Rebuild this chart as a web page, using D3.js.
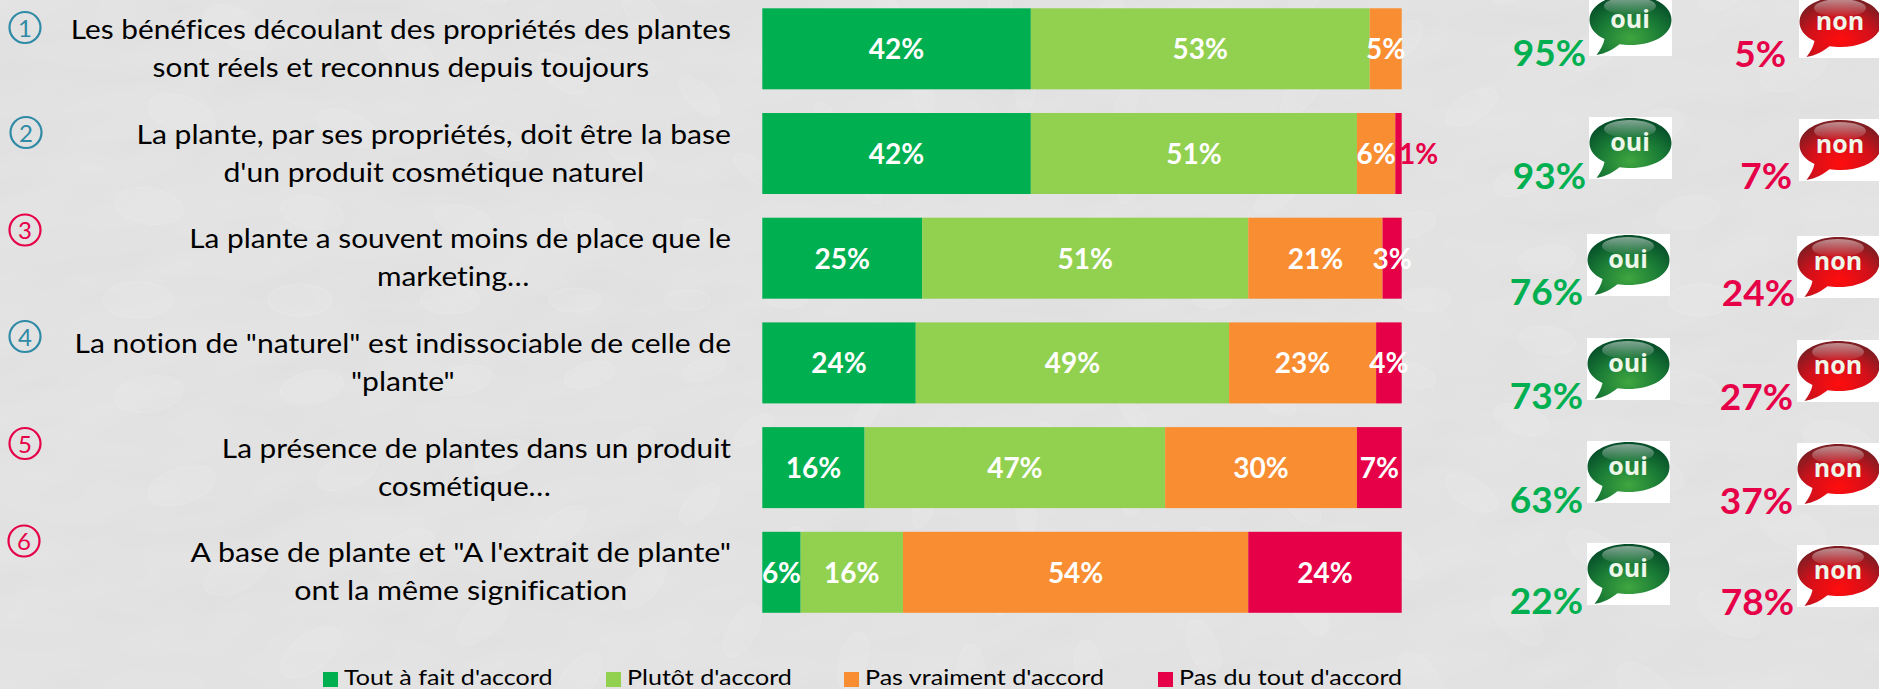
<!DOCTYPE html>
<html lang="fr">
<head>
<meta charset="utf-8">
<title>Plantes et cosmétique naturelle</title>
<script src="https://cdn.jsdelivr.net/npm/d3@7/dist/d3.min.js"></script>
<style>
html,body{margin:0;padding:0;background:#e3e3e3;overflow:hidden}
svg{display:block}
text{font-family:Lato,Carlito,"Noto Sans",sans-serif;font-variant-ligatures:none}
</style>
</head>
<body>
<div id="chart"></div>
<script>
// ---- data ----
const statementLines = [
  ["Les bénéfices découlant des propriétés des plantes", "sont réels et reconnus depuis toujours"],
  ["La plante, par ses propriétés, doit être la base", "d'un produit cosmétique naturel"],
  ["La plante a souvent moins de place que le", "marketing…"],
  ["La notion de \"naturel\" est indissociable de celle de", "\"plante\""],
  ["La présence de plantes dans un produit", "cosmétique…"],
  ["A base de plante et \"A l'extrait de plante\"", "ont la même signification"]
];
const seriesNames = ["Tout à fait d'accord", "Plutôt d'accord", "Pas vraiment d'accord", "Pas du tout d'accord"];
const toutAFait  = [42, 42, 25, 24, 16, 6];
const plutot     = [53, 51, 51, 49, 47, 16];
const pasVraiment= [5, 6, 21, 23, 30, 54];
const pasDuTout  = [0, 1, 3, 4, 7, 24];
const ouiTotals  = [95, 93, 76, 73, 63, 22];
const nonTotals  = [5, 7, 24, 27, 37, 78];
const circledNumbers = ["1", "2", "3", "4", "5", "6"];
const circledIsRed   = [false, false, true, false, true, true];

// ---- layout & styles ----
const W = 1879, H = 689;
const seriesColors = ["#00b050", "#92d050", "#f98d31", "#e60048"];
const GREEN = "#00b050", RED = "#e60048", TEAL = "#2f8aa6";
const textRight = 731;
const secondLineNudge = [0, 0, -7, 0, -12, 0];
const lineStretch = [1.083, 1.095, 1.083, 1.092, 1.083, 1.105];
const circleX = [25, 26, 25, 25, 25, 24];
const circleY = [27.5, 132.5, 230, 336.5, 443.5, 541];
const bubbleOuiY = [-6, 117, 234, 338, 441, 543];
const bubbleOuiX = [1589, 1589, 1587, 1587, 1587, 1587];
const pctOuiRight = [1586, 1586, 1583, 1583, 1583, 1583];
const pctOuiBase = [66, 189, 305, 409, 513, 614];
const pctNonRight = [1786, 1792, 1795, 1793, 1793, 1794];
const pctNonBase = [67, 189, 306, 410, 514, 615];
const legendSwatchX = [323, 606, 844, 1158];

const svg = d3.select("#chart").append("svg").attr("width", W).attr("height", H).attr("viewBox", [0, 0, W, H]);
const defs = svg.append("defs");

function stretch(sel, k) {
  const w = sel.node().getComputedTextLength();
  sel.attr("textLength", w * k).attr("lengthAdjust", "spacingAndGlyphs");
  return sel;
}

// ---- embossed stone background ----
const f = defs.append("filter").attr("id", "stone").attr("x", 0).attr("y", 0).attr("width", "100%").attr("height", "100%").attr("color-interpolation-filters", "sRGB");
f.append("feTurbulence").attr("type", "fractalNoise").attr("baseFrequency", "0.005 0.009").attr("numOctaves", 3).attr("seed", 11).attr("result", "n");
const lit = f.append("feDiffuseLighting").attr("in", "n").attr("surfaceScale", 5).attr("diffuseConstant", 1).attr("lighting-color", "#ffffff").attr("result", "l");
lit.append("feDistantLight").attr("azimuth", 225).attr("elevation", 62);
const ct = f.append("feComponentTransfer").attr("in", "l");
["feFuncR", "feFuncG", "feFuncB"].forEach(k => ct.append(k).attr("type", "linear").attr("slope", 0.16).attr("intercept", 0.748));
svg.append("rect").attr("width", W).attr("height", H).attr("fill", "#e3e3e3");
svg.append("rect").attr("width", W).attr("height", H).attr("filter", "url(#stone)");

// faint radial petals of the background image
const petals = svg.append("g").attr("fill", "#ffffff").attr("fill-opacity", 0.07).attr("stroke", "#ffffff").attr("stroke-opacity", 0.14);
const petalCentre = [1000, 300];
[170, 250, 340, 440, 560, 690].forEach((r, ri) => {
  const n = 14 + ri * 5;
  d3.range(n).forEach(i => {
    const a = (i + (ri % 2) * 0.5) / n * 2 * Math.PI;
    const px = petalCentre[0] + r * Math.cos(a) * 1.25, py = petalCentre[1] + r * Math.sin(a) * 0.85;
    petals.append("ellipse").attr("cx", px).attr("cy", py).attr("rx", 8 + ri * 2).attr("ry", 20 + ri * 3)
      .attr("transform", `rotate(${a * 180 / Math.PI - 90} ${px} ${py})`);
  });
});

// ---- scales ----
const rows = d3.range(statementLines.length);
const x = d3.scaleLinear().domain([0, 100]).range([762.3, 1401.7]);
const y = d3.scaleBand().domain(rows).range([8.3, 612.8]).paddingInner(0.2264).paddingOuter(0);
const table = rows.map(i => ({ row: i, a: toutAFait[i], b: plutot[i], c: pasVraiment[i], d: pasDuTout[i] }));
const keys = ["a", "b", "c", "d"];
const stacked = d3.stack().keys(keys)(table);

// ---- bars ----
const layers = svg.append("g").selectAll("g").data(stacked).join("g").attr("fill", (d, i) => seriesColors[i]);
layers.selectAll("rect").data(d => d.filter(s => s[1] > s[0])).join("rect")
  .attr("x", d => x(d[0])).attr("y", d => y(d.data.row))
  .attr("width", d => x(d[1]) - x(d[0])).attr("height", y.bandwidth());

// bar value labels
const labels = svg.append("g").attr("font-weight", 700).attr("font-size", 28);
stacked.forEach(layer => layer.filter(s => s[1] > s[0]).forEach(s => {
  const v = s[1] - s[0];
  const outside = v <= 1;
  labels.append("text")
    .attr("x", outside ? x(s[1]) + 17 : x((s[0] + s[1]) / 2))
    .attr("y", y(s.data.row) + y.bandwidth() / 2 + 10.5)
    .attr("text-anchor", "middle")
    .attr("fill", outside ? RED : "#ffffff")
    .text(v + "%");
}));

// ---- statements ----
const stm = svg.append("g").attr("font-size", 27.5).attr("fill", "#000");
statementLines.forEach((lines, i) => {
  const first = stm.append("text").attr("x", textRight).attr("y", y(i) + 30.5).attr("text-anchor", "end").text(lines[0]);
  const w = first.node().getComputedTextLength() * lineStretch[i];
  stretch(first, lineStretch[i]);
  const second = stm.append("text").attr("x", textRight - w / 2 + secondLineNudge[i]).attr("y", y(i) + 68.5).attr("text-anchor", "middle").text(lines[1]);
  stretch(second, lineStretch[i]);
});

// ---- circled numbers ----
const circ = svg.append("g");
rows.forEach(i => {
  const c = circledIsRed[i] ? RED : TEAL;
  circ.append("circle").attr("cx", circleX[i]).attr("cy", circleY[i]).attr("r", 15.5).attr("fill", "none").attr("stroke", c).attr("stroke-width", 2.2);
  circ.append("text").attr("x", circleX[i]).attr("y", circleY[i] + 9).attr("text-anchor", "middle").attr("font-size", 24).attr("font-weight", 400).attr("fill", c).text(circledNumbers[i]);
});

// ---- speech bubbles ----
function gradient(id, stops) {
  const g = defs.append("radialGradient").attr("id", id).attr("cx", "50%").attr("cy", "72%").attr("r", "68%");
  stops.forEach(s => g.append("stop").attr("offset", s[0]).attr("stop-color", s[1]));
}
gradient("gOui", [[0, "#3fa63f"], [0.55, "#1b7d36"], [1, "#07502a"]]);
gradient("gNon", [[0, "#ff0d0d"], [0.55, "#d4101a"], [1, "#7f1d22"]]);
const hl = defs.append("linearGradient").attr("id", "gHl").attr("x1", 0).attr("x2", 0).attr("y1", 0).attr("y2", 1);
hl.append("stop").attr("offset", 0).attr("stop-color", "#fff").attr("stop-opacity", 0.5);
hl.append("stop").attr("offset", 1).attr("stop-color", "#fff").attr("stop-opacity", 0.03);
const bubblePath = "M41 1C63 1 82 11 82 26C82 41 63 51 41 51C37 51 33 50.7 30 50.2C24 55 16 59.5 7 61C11 56 14 50 15 45C6 41 0 34 0 26C0 11 19 1 41 1Z";

function bubble(bx, by, word, grad) {
  const g = svg.append("g").attr("transform", `translate(${bx},${by})`);
  g.append("rect").attr("width", 83).attr("height", 62).attr("fill", "#fff");
  g.append("path").attr("d", bubblePath).attr("transform", "translate(0.5,0)").attr("fill", `url(#${grad})`);
  g.append("ellipse").attr("cx", 41).attr("cy", 12).attr("rx", 26).attr("ry", 9).attr("fill", "url(#gHl)");
  g.append("text").attr("x", 41).attr("y", 34).attr("text-anchor", "middle").attr("font-size", 25)
    .style("font-family", "'Open Sans',sans-serif").attr("font-weight", 700).attr("fill", "#eef6ea").text(word);
}

rows.forEach(i => {
  bubble(bubbleOuiX[i], bubbleOuiY[i], "oui", "gOui");
  bubble(1797 + (i < 2 ? 2 : 0), bubbleOuiY[i] + 2, "non", "gNon");
  svg.append("text").attr("x", pctOuiRight[i]).attr("y", pctOuiBase[i]).attr("text-anchor", "end")
    .attr("font-size", 37).attr("font-weight", 700).attr("fill", GREEN).text(ouiTotals[i] + "%");
  svg.append("text").attr("x", pctNonRight[i]).attr("y", pctNonBase[i]).attr("text-anchor", "end")
    .attr("font-size", 37).attr("font-weight", 700).attr("fill", RED).text(nonTotals[i] + "%");
});

// ---- legend ----
const leg = svg.append("g").selectAll("g").data(seriesNames).join("g");
leg.append("rect").attr("x", (d, i) => legendSwatchX[i]).attr("y", 672).attr("width", 15).attr("height", 15).attr("fill", (d, i) => seriesColors[i]);
leg.append("text").attr("x", (d, i) => legendSwatchX[i] + 21).attr("y", 684.5).attr("font-size", 22).attr("fill", "#000").text(d => d)
  .each(function () { stretch(d3.select(this), 1.14); });
</script>
</body>
</html>
